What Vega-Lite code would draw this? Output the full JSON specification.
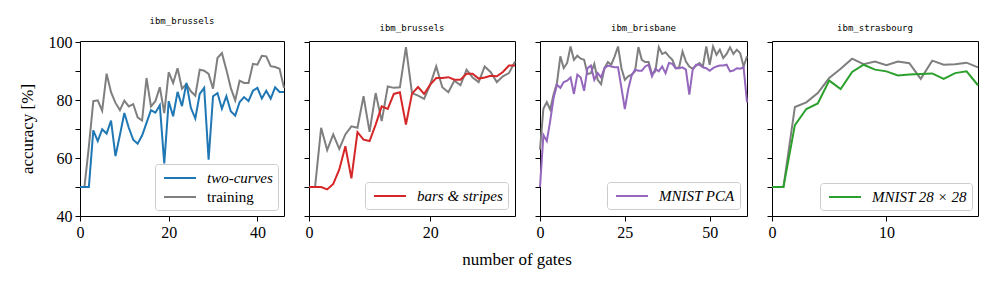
{
"$schema": "https://vega.github.io/schema/vega-lite/v6.json",
"background": "white",
"padding": {"left": 17, "top": 16, "right": 5, "bottom": 5},
"title": {"text": "number of gates", "orient": "bottom", "anchor": "middle", "font": "Liberation Serif", "fontSize": 17, "fontWeight": "normal", "color": "black", "offset": 11, "dx": 17},
"datasets": {
"p1": [
{"x":0,"y":50,"s":"two-curves"},{"x":1,"y":50,"s":"two-curves"},{"x":2,"y":50,"s":"two-curves"},{"x":3,"y":69.6,"s":"two-curves"},{"x":4,"y":65.9,"s":"two-curves"},{"x":5,"y":70,"s":"two-curves"},{"x":6,"y":68.5,"s":"two-curves"},{"x":7,"y":73,"s":"two-curves"},{"x":8,"y":60.7,"s":"two-curves"},{"x":9,"y":68,"s":"two-curves"},{"x":10,"y":75.6,"s":"two-curves"},{"x":11,"y":70.5,"s":"two-curves"},{"x":12,"y":66.4,"s":"two-curves"},{"x":13,"y":65,"s":"two-curves"},{"x":14,"y":67.8,"s":"two-curves"},{"x":15,"y":72.2,"s":"two-curves"},{"x":16,"y":76.6,"s":"two-curves"},{"x":17,"y":75.7,"s":"two-curves"},{"x":18,"y":78.3,"s":"two-curves"},{"x":19,"y":58.2,"s":"two-curves"},{"x":20,"y":79.7,"s":"two-curves"},{"x":21,"y":74.5,"s":"two-curves"},{"x":22,"y":82.9,"s":"two-curves"},{"x":23,"y":78,"s":"two-curves"},{"x":24,"y":86,"s":"two-curves"},{"x":25,"y":77.4,"s":"two-curves"},{"x":26,"y":73.7,"s":"two-curves"},{"x":27,"y":82.2,"s":"two-curves"},{"x":28,"y":84.3,"s":"two-curves"},{"x":29,"y":59.5,"s":"two-curves"},{"x":30,"y":81.4,"s":"two-curves"},{"x":31,"y":82.5,"s":"two-curves"},{"x":32,"y":77.1,"s":"two-curves"},{"x":33,"y":81.4,"s":"two-curves"},{"x":34,"y":76.2,"s":"two-curves"},{"x":35,"y":74.7,"s":"two-curves"},{"x":36,"y":79.4,"s":"two-curves"},{"x":37,"y":81.1,"s":"two-curves"},{"x":38,"y":79.7,"s":"two-curves"},{"x":39,"y":83.3,"s":"two-curves"},{"x":40,"y":84.3,"s":"two-curves"},{"x":41,"y":80.6,"s":"two-curves"},{"x":42,"y":83.3,"s":"two-curves"},{"x":43,"y":80.6,"s":"two-curves"},{"x":44,"y":84.5,"s":"two-curves"},{"x":45,"y":82.9,"s":"two-curves"},{"x":46,"y":82.9,"s":"two-curves"},
{"x":0,"y":50,"s":"training"},{"x":1,"y":50,"s":"training"},{"x":2,"y":64,"s":"training"},{"x":3,"y":79.7,"s":"training"},{"x":4,"y":80,"s":"training"},{"x":5,"y":76.4,"s":"training"},{"x":6,"y":89.2,"s":"training"},{"x":7,"y":82.8,"s":"training"},{"x":8,"y":79.1,"s":"training"},{"x":9,"y":76.6,"s":"training"},{"x":10,"y":79.9,"s":"training"},{"x":11,"y":77.9,"s":"training"},{"x":12,"y":78.7,"s":"training"},{"x":13,"y":74.1,"s":"training"},{"x":14,"y":73,"s":"training"},{"x":15,"y":87.7,"s":"training"},{"x":16,"y":77.9,"s":"training"},{"x":17,"y":79.7,"s":"training"},{"x":18,"y":84.5,"s":"training"},{"x":19,"y":75.6,"s":"training"},{"x":20,"y":89.7,"s":"training"},{"x":21,"y":86,"s":"training"},{"x":22,"y":91.1,"s":"training"},{"x":23,"y":84,"s":"training"},{"x":24,"y":85.6,"s":"training"},{"x":25,"y":83.1,"s":"training"},{"x":26,"y":81.6,"s":"training"},{"x":27,"y":90.6,"s":"training"},{"x":28,"y":90.2,"s":"training"},{"x":29,"y":89.1,"s":"training"},{"x":30,"y":84,"s":"training"},{"x":31,"y":94.6,"s":"training"},{"x":32,"y":96.3,"s":"training"},{"x":33,"y":90.6,"s":"training"},{"x":34,"y":84.3,"s":"training"},{"x":35,"y":80,"s":"training"},{"x":36,"y":86.8,"s":"training"},{"x":37,"y":86,"s":"training"},{"x":38,"y":86,"s":"training"},{"x":39,"y":92.6,"s":"training"},{"x":40,"y":92.3,"s":"training"},{"x":41,"y":95.4,"s":"training"},{"x":42,"y":95.2,"s":"training"},{"x":43,"y":91.8,"s":"training"},{"x":44,"y":91.5,"s":"training"},{"x":45,"y":90.9,"s":"training"},{"x":46,"y":84.3,"s":"training"}
],
"p2": [
{"x":0,"y":50,"s":"bars & stripes"},{"x":1,"y":50,"s":"bars & stripes"},{"x":2,"y":50,"s":"bars & stripes"},{"x":3,"y":49.2,"s":"bars & stripes"},{"x":4,"y":51.1,"s":"bars & stripes"},{"x":5,"y":56.1,"s":"bars & stripes"},{"x":6,"y":64.1,"s":"bars & stripes"},{"x":7,"y":53,"s":"bars & stripes"},{"x":8,"y":69,"s":"bars & stripes"},{"x":9,"y":66.4,"s":"bars & stripes"},{"x":10,"y":65.9,"s":"bars & stripes"},{"x":11,"y":71.6,"s":"bars & stripes"},{"x":12,"y":77.9,"s":"bars & stripes"},{"x":13,"y":77,"s":"bars & stripes"},{"x":14,"y":82.2,"s":"bars & stripes"},{"x":15,"y":82.8,"s":"bars & stripes"},{"x":16,"y":71.6,"s":"bars & stripes"},{"x":17,"y":82.3,"s":"bars & stripes"},{"x":18,"y":84.6,"s":"bars & stripes"},{"x":19,"y":82.2,"s":"bars & stripes"},{"x":20,"y":85.4,"s":"bars & stripes"},{"x":21,"y":87.7,"s":"bars & stripes"},{"x":22,"y":87.7,"s":"bars & stripes"},{"x":23,"y":88,"s":"bars & stripes"},{"x":24,"y":87.1,"s":"bars & stripes"},{"x":25,"y":87.1,"s":"bars & stripes"},{"x":26,"y":89.2,"s":"bars & stripes"},{"x":27,"y":89.2,"s":"bars & stripes"},{"x":28,"y":87.5,"s":"bars & stripes"},{"x":29,"y":87.9,"s":"bars & stripes"},{"x":30,"y":88.5,"s":"bars & stripes"},{"x":31,"y":88.3,"s":"bars & stripes"},{"x":32,"y":89.8,"s":"bars & stripes"},{"x":33,"y":92,"s":"bars & stripes"},{"x":34,"y":92,"s":"bars & stripes"},
{"x":0,"y":50,"s":"training"},{"x":1,"y":50,"s":"training"},{"x":2,"y":70.5,"s":"training"},{"x":3,"y":62.8,"s":"training"},{"x":4,"y":68.2,"s":"training"},{"x":5,"y":63.2,"s":"training"},{"x":6,"y":68.2,"s":"training"},{"x":7,"y":71,"s":"training"},{"x":8,"y":70.5,"s":"training"},{"x":9,"y":81.4,"s":"training"},{"x":10,"y":69.1,"s":"training"},{"x":11,"y":82.5,"s":"training"},{"x":12,"y":72.8,"s":"training"},{"x":13,"y":84.8,"s":"training"},{"x":14,"y":84.3,"s":"training"},{"x":15,"y":84.5,"s":"training"},{"x":16,"y":98.4,"s":"training"},{"x":17,"y":82.5,"s":"training"},{"x":18,"y":81.6,"s":"training"},{"x":19,"y":80.5,"s":"training"},{"x":20,"y":85.4,"s":"training"},{"x":21,"y":91.7,"s":"training"},{"x":22,"y":84.5,"s":"training"},{"x":23,"y":82.8,"s":"training"},{"x":24,"y":86.8,"s":"training"},{"x":25,"y":85.2,"s":"training"},{"x":26,"y":90.6,"s":"training"},{"x":27,"y":87.9,"s":"training"},{"x":28,"y":86.3,"s":"training"},{"x":29,"y":91.7,"s":"training"},{"x":30,"y":89.7,"s":"training"},{"x":31,"y":86.3,"s":"training"},{"x":32,"y":88.3,"s":"training"},{"x":33,"y":89.4,"s":"training"},{"x":34,"y":93.4,"s":"training"}
],
"p3": [
{"x":0,"y":50,"s":"MNIST PCA"},{"x":1,"y":68,"s":"MNIST PCA"},{"x":2,"y":65.9,"s":"MNIST PCA"},{"x":3,"y":72.8,"s":"MNIST PCA"},{"x":4,"y":80.8,"s":"MNIST PCA"},{"x":5,"y":85.4,"s":"MNIST PCA"},{"x":6,"y":84.3,"s":"MNIST PCA"},{"x":7,"y":86.3,"s":"MNIST PCA"},{"x":8,"y":86.8,"s":"MNIST PCA"},{"x":9,"y":87.9,"s":"MNIST PCA"},{"x":10,"y":82.2,"s":"MNIST PCA"},{"x":11,"y":88.9,"s":"MNIST PCA"},{"x":12,"y":87.9,"s":"MNIST PCA"},{"x":13,"y":83.3,"s":"MNIST PCA"},{"x":14,"y":91.1,"s":"MNIST PCA"},{"x":15,"y":92,"s":"MNIST PCA"},{"x":16,"y":87.1,"s":"MNIST PCA"},{"x":17,"y":89.4,"s":"MNIST PCA"},{"x":18,"y":87.9,"s":"MNIST PCA"},{"x":19,"y":91.1,"s":"MNIST PCA"},{"x":20,"y":92,"s":"MNIST PCA"},{"x":21,"y":91.7,"s":"MNIST PCA"},{"x":22,"y":91.4,"s":"MNIST PCA"},{"x":23,"y":91.4,"s":"MNIST PCA"},{"x":24,"y":84.3,"s":"MNIST PCA"},{"x":25,"y":77,"s":"MNIST PCA"},{"x":26,"y":83.8,"s":"MNIST PCA"},{"x":27,"y":88.6,"s":"MNIST PCA"},{"x":28,"y":90.6,"s":"MNIST PCA"},{"x":29,"y":90.2,"s":"MNIST PCA"},{"x":30,"y":90.2,"s":"MNIST PCA"},{"x":31,"y":91.7,"s":"MNIST PCA"},{"x":32,"y":92.3,"s":"MNIST PCA"},{"x":33,"y":88.3,"s":"MNIST PCA"},{"x":34,"y":90.9,"s":"MNIST PCA"},{"x":35,"y":90,"s":"MNIST PCA"},{"x":36,"y":91.7,"s":"MNIST PCA"},{"x":37,"y":89.4,"s":"MNIST PCA"},{"x":38,"y":92.9,"s":"MNIST PCA"},{"x":39,"y":92.6,"s":"MNIST PCA"},{"x":40,"y":91.1,"s":"MNIST PCA"},{"x":41,"y":91.1,"s":"MNIST PCA"},{"x":42,"y":91.4,"s":"MNIST PCA"},{"x":43,"y":90.6,"s":"MNIST PCA"},{"x":44,"y":82,"s":"MNIST PCA"},{"x":45,"y":90.6,"s":"MNIST PCA"},{"x":46,"y":92.3,"s":"MNIST PCA"},{"x":47,"y":92.3,"s":"MNIST PCA"},{"x":48,"y":91.4,"s":"MNIST PCA"},{"x":49,"y":91.1,"s":"MNIST PCA"},{"x":50,"y":90.2,"s":"MNIST PCA"},{"x":51,"y":91.1,"s":"MNIST PCA"},{"x":52,"y":91.7,"s":"MNIST PCA"},{"x":53,"y":92,"s":"MNIST PCA"},{"x":54,"y":92,"s":"MNIST PCA"},{"x":55,"y":92.3,"s":"MNIST PCA"},{"x":56,"y":90,"s":"MNIST PCA"},{"x":57,"y":90.3,"s":"MNIST PCA"},{"x":58,"y":91.1,"s":"MNIST PCA"},{"x":59,"y":90.9,"s":"MNIST PCA"},{"x":60,"y":91.4,"s":"MNIST PCA"},{"x":61,"y":79.3,"s":"MNIST PCA"},
{"x":0,"y":63,"s":"training"},{"x":1,"y":77.1,"s":"training"},{"x":2,"y":79.4,"s":"training"},{"x":3,"y":76.8,"s":"training"},{"x":4,"y":82,"s":"training"},{"x":5,"y":86,"s":"training"},{"x":6,"y":95.2,"s":"training"},{"x":7,"y":91.1,"s":"training"},{"x":8,"y":92.9,"s":"training"},{"x":9,"y":98.6,"s":"training"},{"x":10,"y":94,"s":"training"},{"x":11,"y":95.4,"s":"training"},{"x":12,"y":94.4,"s":"training"},{"x":13,"y":94,"s":"training"},{"x":14,"y":89.1,"s":"training"},{"x":15,"y":89.4,"s":"training"},{"x":16,"y":92.6,"s":"training"},{"x":17,"y":87.1,"s":"training"},{"x":18,"y":85.6,"s":"training"},{"x":19,"y":91.1,"s":"training"},{"x":20,"y":93.2,"s":"training"},{"x":21,"y":92.3,"s":"training"},{"x":22,"y":95.2,"s":"training"},{"x":23,"y":98.6,"s":"training"},{"x":24,"y":91.1,"s":"training"},{"x":25,"y":87.1,"s":"training"},{"x":26,"y":88.3,"s":"training"},{"x":27,"y":88.9,"s":"training"},{"x":28,"y":90,"s":"training"},{"x":29,"y":98.4,"s":"training"},{"x":30,"y":94,"s":"training"},{"x":31,"y":93.2,"s":"training"},{"x":32,"y":93.2,"s":"training"},{"x":33,"y":89.1,"s":"training"},{"x":34,"y":90,"s":"training"},{"x":35,"y":98.4,"s":"training"},{"x":36,"y":96,"s":"training"},{"x":37,"y":96.6,"s":"training"},{"x":38,"y":95.2,"s":"training"},{"x":39,"y":94,"s":"training"},{"x":40,"y":91.1,"s":"training"},{"x":41,"y":91.4,"s":"training"},{"x":42,"y":96.9,"s":"training"},{"x":43,"y":93.4,"s":"training"},{"x":44,"y":91.7,"s":"training"},{"x":45,"y":90.9,"s":"training"},{"x":46,"y":92,"s":"training"},{"x":47,"y":92.9,"s":"training"},{"x":48,"y":91.7,"s":"training"},{"x":49,"y":98.6,"s":"training"},{"x":50,"y":92.3,"s":"training"},{"x":51,"y":98.6,"s":"training"},{"x":52,"y":95.7,"s":"training"},{"x":53,"y":97.5,"s":"training"},{"x":54,"y":94.6,"s":"training"},{"x":55,"y":96,"s":"training"},{"x":56,"y":98.3,"s":"training"},{"x":57,"y":96,"s":"training"},{"x":58,"y":97.5,"s":"training"},{"x":59,"y":96.3,"s":"training"},{"x":60,"y":91.7,"s":"training"},{"x":61,"y":95.2,"s":"training"}
],
"p4": [
{"x":0,"y":50,"s":"MNIST 28 × 28"},{"x":1,"y":50,"s":"MNIST 28 × 28"},{"x":2,"y":71.4,"s":"MNIST 28 × 28"},{"x":3,"y":77,"s":"MNIST 28 × 28"},{"x":4,"y":78.9,"s":"MNIST 28 × 28"},{"x":5,"y":86.8,"s":"MNIST 28 × 28"},{"x":6,"y":83.9,"s":"MNIST 28 × 28"},{"x":7,"y":89.8,"s":"MNIST 28 × 28"},{"x":8,"y":92.3,"s":"MNIST 28 × 28"},{"x":9,"y":90.6,"s":"MNIST 28 × 28"},{"x":10,"y":90,"s":"MNIST 28 × 28"},{"x":11,"y":88.6,"s":"MNIST 28 × 28"},{"x":12,"y":88.9,"s":"MNIST 28 × 28"},{"x":13,"y":89.1,"s":"MNIST 28 × 28"},{"x":14,"y":89.3,"s":"MNIST 28 × 28"},{"x":15,"y":87.4,"s":"MNIST 28 × 28"},{"x":16,"y":89.4,"s":"MNIST 28 × 28"},{"x":17,"y":90,"s":"MNIST 28 × 28"},{"x":18,"y":85.2,"s":"MNIST 28 × 28"},
{"x":0,"y":50,"s":"training"},{"x":1,"y":50,"s":"training"},{"x":2,"y":77.7,"s":"training"},{"x":3,"y":79.3,"s":"training"},{"x":4,"y":82.5,"s":"training"},{"x":5,"y":87.7,"s":"training"},{"x":6,"y":90.9,"s":"training"},{"x":7,"y":94.4,"s":"training"},{"x":8,"y":92.5,"s":"training"},{"x":9,"y":93.4,"s":"training"},{"x":10,"y":92.1,"s":"training"},{"x":11,"y":93.4,"s":"training"},{"x":12,"y":92.8,"s":"training"},{"x":13,"y":87.4,"s":"training"},{"x":14,"y":93.7,"s":"training"},{"x":15,"y":92.3,"s":"training"},{"x":16,"y":92.5,"s":"training"},{"x":17,"y":93,"s":"training"},{"x":18,"y":91.4,"s":"training"}
]
},
"spacing": 25,
"bounds": "flush",
"resolve": {"scale": {"color": "independent"}},
"hconcat": [
{
"width": 204, "height": 175,
"title": {"text": "ibm_brussels"},
"data": {"name": "p1"},
"encoding": {
"x": {"field": "x", "type": "quantitative", "scale": {"domain": [0, 46], "nice": false, "zero": false}, "axis": {"values": [0, 20, 40], "title": null}},
"y": {"field": "y", "type": "quantitative", "scale": {"domain": [40, 100.5], "nice": false, "zero": false}, "axis": {"values": [40, 50, 60, 70, 80, 90, 100], "labelExpr": "datum.value % 20 === 0 ? datum.label : ''", "title": "accuracy [%]", "titleFontSize": 17, "titlePadding": 12, "encode": {"ticks": {"update": {"x2": {"signal": "datum.value % 20 === 0 ? -5 : -3"}}}}}},
"color": {"field": "s", "type": "nominal", "scale": {"domain": ["two-curves", "training"], "range": ["#1f77b4", "#7f7f7f"]}, "legend": {"title": null, "offset": 6, "encode": {"labels": {"update": {"fontStyle": {"signal": "datum.value === 'training' ? 'normal' : 'italic'"}}}}}}
},
"layer": [
{"transform": [{"filter": "datum.s === 'training'"}], "mark": {"type": "line", "strokeWidth": 2}},
{"transform": [{"filter": "datum.s !== 'training'"}], "mark": {"type": "line", "strokeWidth": 2}}
]
},
{
"width": 206, "height": 175,
"title": {"text": "ibm_brussels"},
"data": {"name": "p2"},
"encoding": {
"x": {"field": "x", "type": "quantitative", "scale": {"domain": [0, 34], "nice": false, "zero": false}, "axis": {"values": [0, 20], "title": null}},
"y": {"field": "y", "type": "quantitative", "scale": {"domain": [40, 100.5], "nice": false, "zero": false}, "axis": {"values": [40, 50, 60, 70, 80, 90, 100], "labels": false, "title": null, "encode": {"ticks": {"update": {"x2": {"signal": "datum.value % 20 === 0 ? -5 : -3"}}}}}}
},
"layer": [
{"transform": [{"filter": "datum.s === 'training'"}], "mark": {"type": "line", "strokeWidth": 2, "color": "#7f7f7f"}},
{"transform": [{"filter": "datum.s !== 'training'"}], "mark": {"type": "line", "strokeWidth": 2},
 "encoding": {"color": {"field": "s", "type": "nominal", "scale": {"domain": ["bars & stripes"], "range": ["#d62728"]}, "legend": {"title": null, "offset": 7, "labelFontStyle": "italic"}}}}
]
},
{
"width": 207, "height": 175,
"title": {"text": "ibm_brisbane"},
"data": {"name": "p3"},
"encoding": {
"x": {"field": "x", "type": "quantitative", "scale": {"domain": [0, 61], "nice": false, "zero": false}, "axis": {"values": [0, 25, 50], "title": null}},
"y": {"field": "y", "type": "quantitative", "scale": {"domain": [40, 100.5], "nice": false, "zero": false}, "axis": {"values": [40, 50, 60, 70, 80, 90, 100], "labels": false, "title": null, "encode": {"ticks": {"update": {"x2": {"signal": "datum.value % 20 === 0 ? -5 : -3"}}}}}}
},
"layer": [
{"transform": [{"filter": "datum.s === 'training'"}], "mark": {"type": "line", "strokeWidth": 2, "color": "#7f7f7f"}},
{"transform": [{"filter": "datum.s !== 'training'"}], "mark": {"type": "line", "strokeWidth": 2},
 "encoding": {"color": {"field": "s", "type": "nominal", "scale": {"domain": ["MNIST PCA"], "range": ["#9467bd"]}, "legend": {"title": null, "offset": 7, "labelFontStyle": "italic"}}}}
]
},
{
"width": 206, "height": 175,
"title": {"text": "ibm_strasbourg"},
"data": {"name": "p4"},
"encoding": {
"x": {"field": "x", "type": "quantitative", "scale": {"domain": [0, 18], "nice": false, "zero": false}, "axis": {"values": [0, 10], "title": null}},
"y": {"field": "y", "type": "quantitative", "scale": {"domain": [40, 100.5], "nice": false, "zero": false}, "axis": {"values": [40, 50, 60, 70, 80, 90, 100], "labels": false, "title": null, "encode": {"ticks": {"update": {"x2": {"signal": "datum.value % 20 === 0 ? -5 : -3"}}}}}}
},
"layer": [
{"transform": [{"filter": "datum.s === 'training'"}], "mark": {"type": "line", "strokeWidth": 2, "color": "#7f7f7f"}},
{"transform": [{"filter": "datum.s !== 'training'"}], "mark": {"type": "line", "strokeWidth": 2},
 "encoding": {"color": {"field": "s", "type": "nominal", "scale": {"domain": ["MNIST 28 × 28"], "range": ["#2ca02c"]}, "legend": {"title": null, "offset": 6, "labelFontStyle": "italic"}}}}
]
}
],
"config": {
"font": "Liberation Serif",
"view": {"stroke": "black", "strokeWidth": 1},
"axis": {"grid": false, "domain": false, "tickColor": "black", "tickSize": 5, "tickWidth": 1, "labelFont": "Liberation Serif", "labelFontSize": 16, "labelColor": "black", "labelPadding": 3, "labelFlush": false, "titleFont": "Liberation Serif", "titleFontSize": 17, "titleFontWeight": "normal", "titleColor": "black"},
"title": {"font": "DejaVu Sans Mono", "fontSize": 9, "fontWeight": "normal", "offset": 8, "color": "black", "anchor": "middle"},
"legend": {"orient": "bottom-right", "symbolType": "M-2,0L2,0", "symbolSize": 256, "symbolStrokeWidth": 2, "symbolOffset": 11, "labelFont": "Liberation Serif", "labelFontSize": 15, "labelColor": "black", "labelOffset": 18, "labelLimit": 300, "padding": 5, "rowPadding": 2, "strokeColor": "#cccccc", "cornerRadius": 3, "fillColor": "rgba(255,255,255,0.8)"}
}
}
